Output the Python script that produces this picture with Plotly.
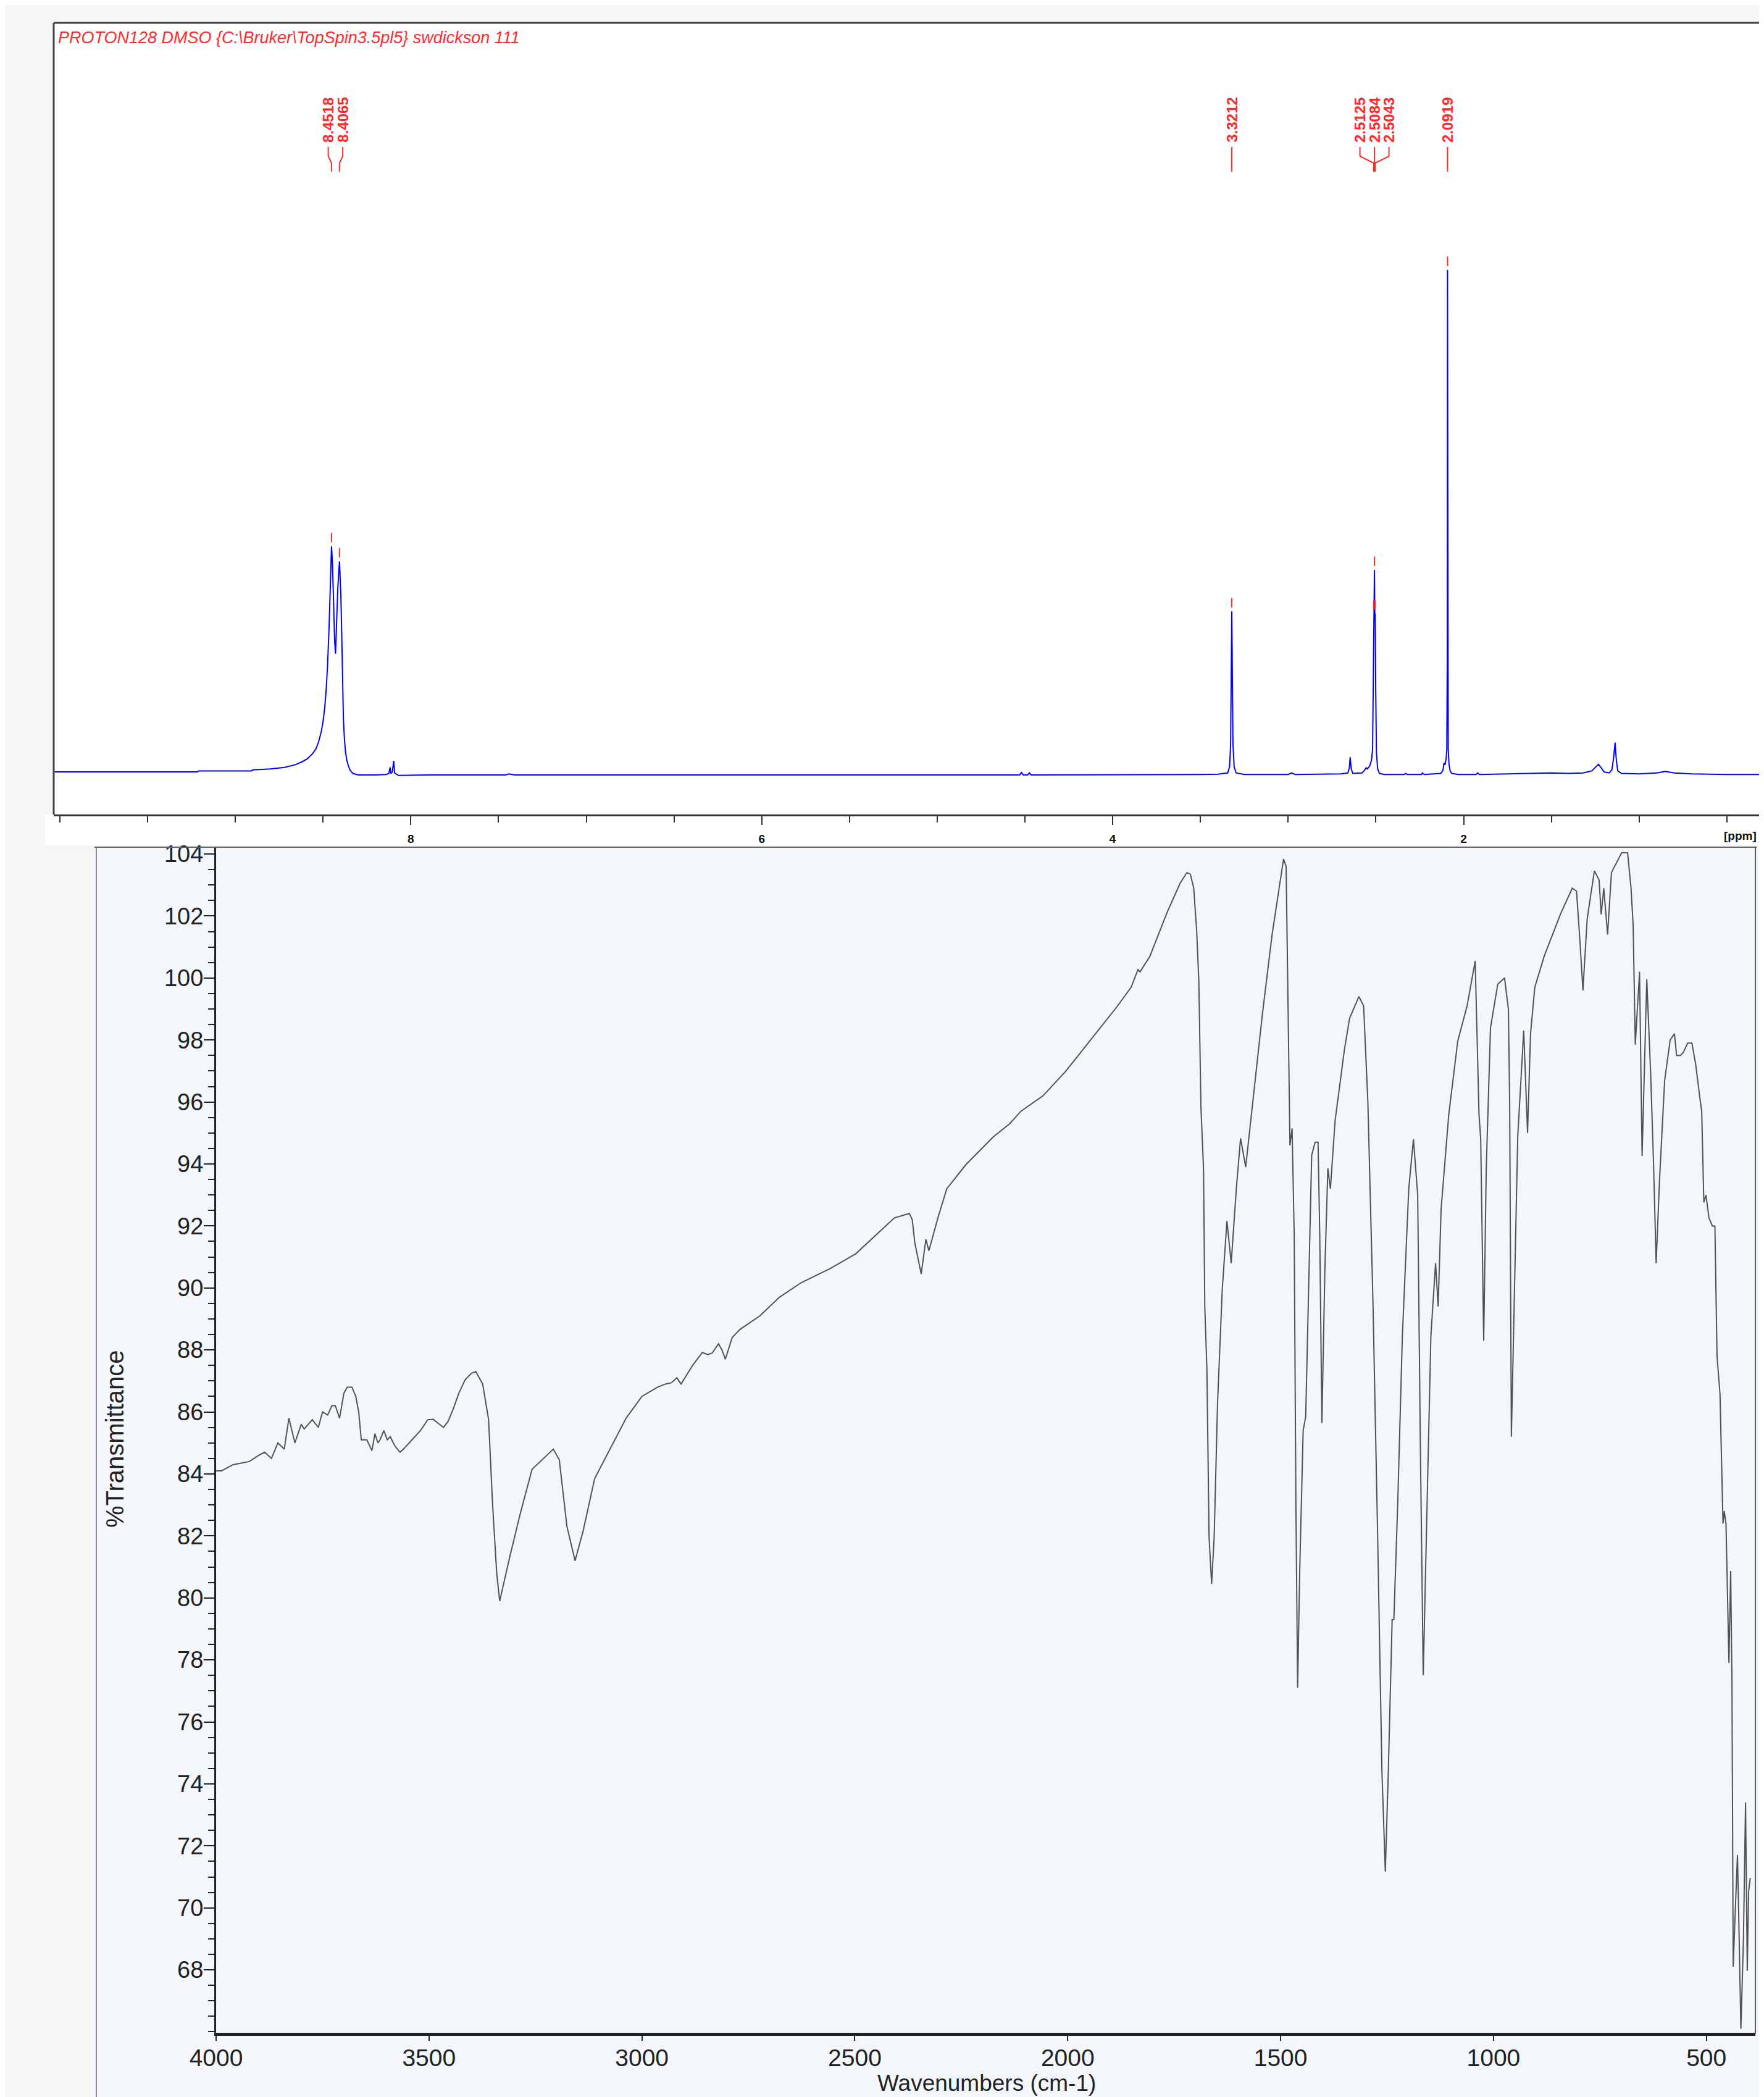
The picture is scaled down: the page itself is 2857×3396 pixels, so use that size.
import plotly.graph_objects as go

W, H = 2857, 3396
OFF = 8  # page body margin of the html page
FW, FH = W - OFF, H - OFF

# ---------------- 1H NMR data (ppm, intensity; 2.0919 peak = 100) ----------------
nmr_ppm = [10.03, 9.60, 9.215, 9.21, 8.91, 8.90, 8.80, 8.72, 8.66, 8.62, 8.59, 8.56, 8.54, 8.525,
           8.51, 8.50, 8.49, 8.482, 8.474, 8.466, 8.459, 8.4518, 8.446, 8.440, 8.434, 8.429, 8.423,
           8.416, 8.4065, 8.399, 8.394, 8.389, 8.384, 8.378, 8.372, 8.365, 8.356, 8.345, 8.33, 8.30,
           8.20, 8.14, 8.125, 8.118, 8.113, 8.105, 8.098, 8.092, 8.07, 7.90, 7.46, 7.44, 7.41,
           4.53, 4.52, 4.51, 4.485, 4.475, 4.465, 3.50, 3.40, 3.345, 3.334, 3.328, 3.3245, 3.3212,
           3.318, 3.3145, 3.308, 3.297, 3.25, 3.00, 2.98, 2.96, 2.70, 2.66, 2.652, 2.6465, 2.641,
           2.632, 2.58, 2.565, 2.556, 2.548, 2.535, 2.525, 2.519, 2.5155, 2.5125, 2.5104, 2.5084,
           2.5064, 2.5043, 2.5012, 2.497, 2.490, 2.480, 2.45, 2.34, 2.33, 2.32, 2.24, 2.235, 2.225,
           2.13, 2.118, 2.112, 2.106, 2.100, 2.096, 2.0935, 2.0919, 2.0903, 2.088, 2.083, 2.077,
           2.068, 2.03, 1.93, 1.92, 1.91, 1.75, 1.70, 1.60, 1.50, 1.40, 1.32, 1.27, 1.245, 1.232,
           1.22, 1.20, 1.17, 1.155, 1.145, 1.137, 1.130, 1.122, 1.10, 1.00, 0.90, 0.85, 0.80, 0.70,
           0.50, 0.29]
nmr_int = [0.6, 0.6, 0.6, 0.8, 0.8, 1.0, 1.2, 1.5, 2.0, 2.6, 3.2, 4.2, 5.2, 6.6,
           8.6, 10.6, 13.5, 17.0, 22.0, 29.0, 38.0, 45.3, 41.5, 33.0, 26.5, 24.0, 29.0,
           37.0, 42.3, 36.0, 28.5, 18.5, 11.0, 7.0, 4.5, 3.0, 1.8, 0.9, 0.3, 0.0,
           0.0, 0.1, 0.3, 1.5, 0.3, 0.6, 2.8, 0.4, -0.1, 0.0, 0.0, 0.2, 0.0,
           0.0, 0.5, 0.0, 0.0, 0.4, 0.0, 0.1, 0.15, 0.4, 1.6, 6.0, 19.0, 32.4,
           19.0, 6.0, 1.6, 0.4, 0.1, 0.1, 0.4, 0.1, 0.2, 0.4, 1.3, 3.5, 1.3,
           0.3, 0.4, 0.9, 1.4, 1.2, 1.8, 3.0, 5.0, 17.0, 32.0, 30.5, 40.6,
           30.5, 32.0, 17.0, 4.5, 1.2, 0.3, 0.1, 0.1, 0.3, 0.1, 0.1, 0.4, 0.1,
           0.3, 0.9, 2.4, 2.0, 3.2, 5.0, 22.0, 100.0, 22.0, 5.0, 2.0, 0.8,
           0.3, 0.1, 0.1, 0.4, 0.1, 0.2, 0.3, 0.3, 0.4, 0.3, 0.4, 0.8, 1.6, 2.1,
           1.6, 0.6, 0.4, 1.0, 3.5, 6.4, 3.0, 0.8, 0.3, 0.2, 0.4, 0.7, 0.4, 0.2,
           0.1, 0.1]

peak_ppm = [8.4518, 8.4065, 3.3212, 2.5125, 2.5084, 2.5043, 2.0919]
peak_int = [45.3, 42.3, 32.4, 32.0, 40.6, 32.0, 100.0]
nmr_header = "PROTON128 DMSO {C:\\Bruker\\TopSpin3.5pl5} swdickson 111"
nmr_tickvals = [8, 6, 4, 2]
nmr_ticktext = ["8", "6", "4", "2"]

# ---------------- IR data (wavenumber, %T) ----------------
ir_wn = [4000, 3987, 3960, 3922, 3900, 3886, 3870, 3855, 3840, 3829, 3815, 3800, 3793, 3774, 3760,
         3750, 3738, 3728, 3720, 3710, 3700, 3692, 3681, 3672, 3665, 3659, 3646, 3634, 3627, 3620,
         3615, 3606, 3598, 3591, 3580, 3568, 3560, 3553, 3540, 3520, 3503, 3490, 3480, 3466, 3455,
         3443, 3430, 3415, 3400, 3390, 3374, 3360, 3351, 3341, 3334, 3323, 3309, 3286, 3258, 3231,
         3208, 3194, 3176, 3157, 3138, 3111, 3075, 3037, 3000, 2963, 2945, 2931, 2918, 2908, 2881,
         2858, 2845, 2835, 2820, 2812, 2804, 2795, 2788, 2770, 2723, 2677, 2626, 2569, 2561, 2498,
         2446, 2407, 2372, 2365, 2359, 2344, 2333, 2326, 2304, 2284, 2239, 2175, 2136, 2110, 2058,
         2006, 1981, 1929, 1885, 1851, 1835, 1830, 1807, 1767, 1736, 1720, 1712, 1704, 1697, 1692,
         1687, 1681, 1678, 1673, 1668, 1662, 1656, 1648, 1637, 1626, 1616, 1604, 1594, 1582, 1565,
         1543, 1520, 1504, 1493, 1487, 1483, 1478, 1473, 1468, 1464, 1460, 1455, 1447, 1441, 1427,
         1419, 1412, 1408, 1403, 1396, 1389, 1383, 1372, 1350, 1338, 1316, 1305, 1295, 1283, 1272,
         1262, 1254, 1247, 1238, 1234, 1225, 1214, 1199, 1188, 1178, 1172, 1165, 1156, 1147, 1136,
         1130, 1123, 1105, 1084, 1062, 1043, 1034, 1030, 1023, 1017, 1007, 990, 974, 965, 962,
         958, 951, 943, 929, 920, 913, 903, 881, 843, 815, 805, 797, 790, 780, 763,
         752, 747, 741, 732, 723, 699, 685, 677, 672, 667, 657, 651, 640, 631, 624,
         618, 610, 598, 585, 575, 570, 561, 554, 544, 534, 525, 515, 511, 506, 501,
         494, 486, 480, 475, 468, 461, 458, 454, 447, 443, 440, 437, 432, 427, 424,
         419, 413, 408, 404, 401, 397]
ir_t = [84.1, 84.1, 84.3, 84.4, 84.6, 84.7, 84.5, 85.0, 84.8, 85.8, 85.0, 85.6, 85.45, 85.75, 85.5,
        86.0, 85.9, 86.2, 86.2, 85.8, 86.6, 86.8, 86.8, 86.5, 86.0, 85.1, 85.1, 84.75, 85.3, 85.0,
        85.1, 85.4, 85.1, 85.2, 84.9, 84.7, 84.8, 84.9, 85.1, 85.4, 85.75, 85.76, 85.65, 85.5, 85.7,
        86.1, 86.6, 87.04, 87.25, 87.3, 86.9, 85.75, 83.1, 80.8, 79.9, 80.57, 81.4, 82.7, 84.15, 84.5,
        84.8, 84.45, 82.3, 81.2, 82.16, 83.85, 84.8, 85.8, 86.5, 86.8, 86.9, 86.94, 87.1, 86.9, 87.5,
        87.92, 87.85, 87.9, 88.2, 88.0, 87.7, 88.1, 88.4, 88.66, 89.1, 89.7, 90.17, 90.55, 90.6, 91.1,
        91.77, 92.26, 92.4, 92.2, 91.45, 90.45, 91.57, 91.2, 92.3, 93.2, 93.98, 94.87, 95.3, 95.7, 96.2,
        96.97, 97.4, 98.3, 99.06, 99.7, 100.27, 100.2, 100.7, 102.1, 103.06, 103.4, 103.35, 102.9, 101.5, 99.9,
        95.8, 93.86, 89.4, 87.36, 81.96, 80.45, 81.96, 86.3, 89.95, 92.16, 90.8, 93.2, 94.83, 93.9, 96.0,
        98.8, 101.4, 102.9, 103.84, 103.6, 99.26, 94.6, 95.15, 91.7, 83.0, 77.1, 80.9, 85.4, 85.85, 94.28,
        94.7, 94.7, 91.7, 85.65, 90.6, 93.86, 93.2, 95.4, 97.7, 98.7, 99.4, 99.1, 96.0, 89.5, 81.96,
        74.4, 71.17, 74.4, 79.3, 79.3, 83.0, 88.46, 93.2, 94.8, 93.0, 85.2, 77.5, 83.0, 88.46, 90.8,
        89.4, 92.55, 95.6, 97.96, 99.1, 100.55, 95.6, 94.8, 88.3, 93.86, 98.4, 99.8, 100.0, 99.0, 96.0,
        85.2, 89.5, 94.9, 98.3, 95.0, 98.2, 99.7, 100.7, 102.05, 102.9, 102.8, 101.2, 99.6, 101.9, 103.46,
        103.16, 102.05, 102.9, 101.4, 103.4, 104.04, 104.04, 102.9, 101.7, 97.85, 100.2, 94.26, 99.96, 96.97, 93.97,
        90.8, 93.5, 96.7, 98.0, 98.2, 97.5, 97.5, 97.6, 97.9, 97.9, 97.2, 96.1, 95.7, 92.76, 93.0,
        92.26, 92.0, 92.0, 87.8, 86.57, 82.4, 82.8, 82.4, 77.9, 80.87, 77.4, 68.1, 69.97, 71.7, 69.7,
        66.1, 68.97, 73.4, 67.97, 70.5, 70.97]

ir_xticks = [4000, 3500, 3000, 2500, 2000, 1500, 1000, 500]
ir_yticks = list(range(68, 105, 2))


def fx(px):
    return (px - OFF) / FW


def fy(py):
    return 1 - (py - OFF) / FH


RED = "#ff2a2a"
fig = go.Figure()

# NMR spectrum
fig.add_trace(go.Scatter(x=nmr_ppm, y=nmr_int, mode="lines",
                         line=dict(color="#0000ff", width=2), xaxis="x", yaxis="y",
                         hoverinfo="skip"))
# peak-pick markers (short red dashes above picked peaks)
PX_PER_UNIT = 8.18
fig.add_trace(go.Scatter(x=peak_ppm, y=[v + 14 / PX_PER_UNIT for v in peak_int], mode="markers",
                         marker=dict(symbol="line-ns", size=11, line=dict(color=RED, width=2)),
                         xaxis="x", yaxis="y", hoverinfo="skip"))
# IR spectrum
fig.add_trace(go.Scatter(x=ir_wn, y=ir_t, mode="lines",
                         line=dict(color="#525252", width=2), xaxis="x2", yaxis="y2",
                         hoverinfo="skip"))

shapes = []
annotations = []

# backgrounds
shapes.append(dict(type="rect", xref="paper", yref="paper", x0=fx(87), x1=1.0, y0=fy(1319), y1=fy(37),
                   fillcolor="white", line=dict(width=0), layer="below"))
shapes.append(dict(type="rect", xref="paper", yref="paper", x0=fx(73), x1=1.0, y0=fy(1369), y1=fy(1319),
                   fillcolor="white", line=dict(width=0), layer="below"))
shapes.append(dict(type="rect", xref="paper", yref="paper", x0=fx(153), x1=fx(2845), y0=0, y1=fy(1371),
                   fillcolor="#f3f7fb", line=dict(width=0), layer="below"))
# NMR frame (top & left)
shapes.append(dict(type="line", xref="paper", yref="paper", x0=fx(87), x1=1.0, y0=fy(37), y1=fy(37),
                   line=dict(color="#444", width=3)))
shapes.append(dict(type="line", xref="paper", yref="paper", x0=fx(87), x1=fx(87), y0=fy(37), y1=fy(1319),
                   line=dict(color="#444", width=3)))
# IR scan frame
shapes.append(dict(type="line", xref="paper", yref="paper", x0=fx(153), x1=fx(2845), y0=fy(1372), y1=fy(1372),
                   line=dict(color="#666", width=2)))
shapes.append(dict(type="line", xref="paper", yref="paper", x0=fx(156), x1=fx(156), y0=fy(1372), y1=0,
                   line=dict(color="#8a8f96", width=2)))
shapes.append(dict(type="line", xref="paper", yref="paper", x0=fx(2843), x1=fx(2843), y0=fy(1372), y1=fy(3294),
                   line=dict(color="#555", width=2)))

# peak labels with leader lines
SP = 23.5 / 284.0  # label spacing in ppm
groups = []
for p in sorted(peak_ppm, reverse=True):
    if groups and groups[-1][-1] - p < SP:
        groups[-1].append(p)
    else:
        groups.append([p])
for g in groups:
    n = len(g)
    c = sum(g) / n
    for i, p in enumerate(g):
        lx = c + ((n - 1) / 2 - i) * SP
        annotations.append(dict(x=lx, y=fy(233), xref="x", yref="paper", text=f"<b>{p:.4f}</b>",
                                textangle=-90, showarrow=False, xanchor="center", yanchor="bottom",
                                font=dict(family="Liberation Sans", size=24, color=RED)))
        lw = dict(color=RED, width=2)
        if n == 1:
            shapes.append(dict(type="line", xref="x", yref="paper", x0=p, x1=p, y0=fy(238), y1=fy(278), line=lw))
        else:
            shapes.append(dict(type="line", xref="x", yref="paper", x0=lx, x1=lx, y0=fy(238), y1=fy(253), line=lw))
            shapes.append(dict(type="line", xref="x", yref="paper", x0=lx, x1=p, y0=fy(253), y1=fy(264), line=lw))
            shapes.append(dict(type="line", xref="x", yref="paper", x0=p, x1=p, y0=fy(264), y1=fy(278), line=lw))

annotations.append(dict(x=fx(92), y=fy(61), xref="paper", yref="paper", text=f"<i>{nmr_header}</i>",
                        showarrow=False, xanchor="left", yanchor="middle",
                        font=dict(family="Liberation Sans", size=27, color=RED)))
annotations.append(dict(x=fx(2818), y=fy(1353), xref="paper", yref="paper", text="<b>[ppm]</b>",
                        showarrow=False, xanchor="center", yanchor="middle",
                        font=dict(family="Liberation Sans", size=19, color="#111")))
annotations.append(dict(x=fx(186), y=fy(2330), xref="paper", yref="paper", text="%Transmittance",
                        textangle=-90, showarrow=False, xanchor="center", yanchor="middle",
                        font=dict(family="Liberation Sans", size=40, color="#222")))
annotations.append(dict(x=fx(1598), y=0, xref="paper", yref="paper", text="Wavenumbers (cm-1)",
                        showarrow=False, xanchor="center", yanchor="bottom",
                        font=dict(family="Liberation Sans", size=37, color="#222")))

fig.update_layout(
    template="none",
    width=FW, height=FH, autosize=False, margin=dict(l=0, r=0, t=0, b=0, pad=0, autoexpand=False),
    paper_bgcolor="#f6f6f6", plot_bgcolor="rgba(0,0,0,0)", showlegend=False,
    shapes=shapes, annotations=annotations,
    xaxis=dict(domain=[fx(87), 1.0], range=[10.035, 10.035 - (W - 87) / 284.2], anchor="y", automargin=False,
               showline=True, linecolor="#333", linewidth=3, showgrid=False, zeroline=False,
               ticks="outside", ticklen=14, tickwidth=2, tickcolor="#333",
               tickvals=nmr_tickvals, ticktext=nmr_ticktext, ticklabelstandoff=6,
               tickfont=dict(family="Liberation Sans", size=19, color="#111", weight=700),
               minor=dict(dtick=0.5, tick0=0, ticks="outside", ticklen=10, tickwidth=2, tickcolor="#333")),
    yaxis=dict(domain=[fy(1319), fy(37)], range=[(1255 - 1319) / PX_PER_UNIT, (1255 - 37) / PX_PER_UNIT],
               anchor="x", visible=False, automargin=False),
    xaxis2=dict(domain=[fx(350), fx(2843)], range=[4000, 385], anchor="y2", automargin=False,
                showline=True, linecolor="#222", linewidth=5, showgrid=False, zeroline=False,
                ticks="outside", ticklen=8, tickwidth=2, tickcolor="#222",
                tickvals=ir_xticks, ticklabelstandoff=-6,
                tickfont=dict(family="Liberation Sans", size=39, color="#222")),
    yaxis2=dict(domain=[fy(3292), fy(1372)], range=[65.97, 104.22], anchor="x2", automargin=False,
                showline=True, linecolor="#222", linewidth=3, showgrid=False, zeroline=False,
                ticks="outside", ticklen=17, tickwidth=2, tickcolor="#222",
                tickvals=ir_yticks, ticklabelstandoff=-7,
                tickfont=dict(family="Liberation Sans", size=38, color="#222"),
                minor=dict(dtick=0.5, tick0=0, ticks="outside", ticklen=10, tickwidth=2, tickcolor="#222")),
)

fig.write_html("out.html")
